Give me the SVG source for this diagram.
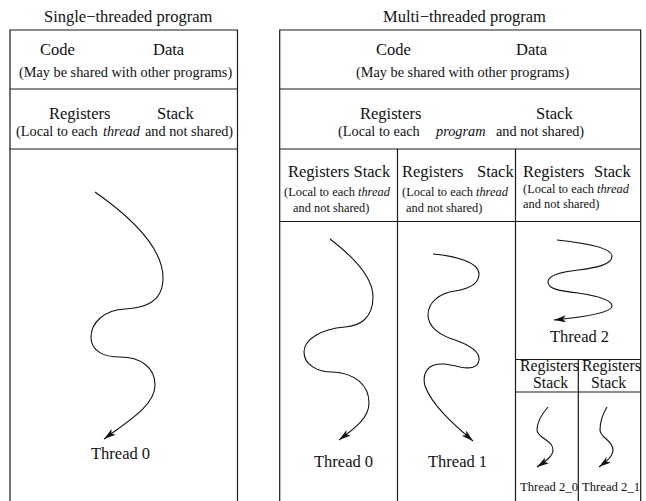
<svg xmlns="http://www.w3.org/2000/svg" width="646" height="501" viewBox="0 0 646 501" font-family="'Liberation Serif', 'DejaVu Serif', 'Noto Serif', serif">
  <style>
    .frame { fill: none; stroke: #1a1a1a; stroke-width: 1.2; }
    .flow { fill: none; stroke: #111; stroke-width: 1.1; marker-end: url(#head); }
    text { font-family: 'Liberation Serif', 'DejaVu Serif', 'Noto Serif', serif; fill: #111; }
    .big { font-size: 16.5px; }
    .sub { font-size: 14.3px; }
    .small { font-size: 12.4px; }
    .cell { font-size: 15.8px; }
    .tiny { font-size: 12.7px; }
    .it { font-style: italic; }
  </style>
  <defs>
    <marker id="head" markerUnits="userSpaceOnUse" markerWidth="14" markerHeight="8" refX="12" refY="3.5" orient="auto">
      <path d="M0,0 L12,3.5 L0,7 L3,3.5 Z" fill="#111"/>
    </marker>
  </defs>

  <!-- Single-threaded program -->
  <g id="single">
    <text class="big" x="44" y="21.5">Single−threaded program</text>
    <path class="frame" d="M10,501 V30 H237.5 V501"/>
  </g>
  <g id="single-code">
    <text class="big" x="40" y="55">Code</text>
    <text class="big" x="153" y="55">Data</text>
    <text class="sub" x="19" y="77">(May be shared with other programs)</text>
    <path class="frame" d="M10,89 H237.5"/>
  </g>
  <g id="single-regs">
    <text class="big" x="49" y="119">Registers</text>
    <text class="big" x="157" y="119">Stack</text>
    <text class="sub" y="136"><tspan x="16">(Local to each</tspan><tspan class="it" x="103">thread</tspan><tspan x="145">and not shared)</tspan></text>
    <path class="frame" d="M10,149 H237.5"/>
  </g>
  <g id="single-thread0">
    <text class="big" x="91" y="458.5">Thread 0</text>
  </g>

  <!-- Multi-threaded program -->
  <g id="multi">
    <text class="big" x="383" y="21.5">Multi−threaded program</text>
    <path class="frame" d="M279.7,501 V30 H640.7 V501"/>
  </g>
  <g id="multi-code">
    <text class="big" x="376" y="55">Code</text>
    <text class="big" x="516" y="55">Data</text>
    <text class="sub" x="356" y="77">(May be shared with other programs)</text>
    <path class="frame" d="M279.7,89 H640.7"/>
  </g>
  <g id="multi-regs">
    <text class="big" x="360" y="119">Registers</text>
    <text class="big" x="536" y="119">Stack</text>
    <text class="sub" y="136"><tspan x="338">(Local to each</tspan><tspan class="it" x="436">program</tspan><tspan x="496">and not shared)</tspan></text>
    <path class="frame" d="M279.7,149 H640.7"/>
  </g>

  <!-- per-thread register/stack cells -->
  <g id="thread0-regs">
    <text class="big" x="288" y="176.5">Registers Stack</text>
    <text class="small" x="284" y="196">(Local to each <tspan class="it">thread</tspan></text>
    <text class="small" x="293" y="212">and not shared)</text>
  </g>
  <g id="thread1-regs">
    <text class="big" x="402" y="176.5">Registers</text>
    <text class="big" x="477" y="176.5">Stack</text>
    <text class="small" x="402" y="196">(Local to each <tspan class="it">thread</tspan></text>
    <text class="small" x="406" y="212">and not shared)</text>
  </g>
  <g id="thread2-regs">
    <text class="big" x="523" y="176.5">Registers</text>
    <text class="big" x="594" y="176.5">Stack</text>
    <text class="small" x="523" y="192.5">(Local to each <tspan class="it">thread</tspan></text>
    <text class="small" x="523" y="208">and not shared)</text>
  </g>
  <g id="grid">
    <path class="frame" d="M279.7,221.5 H640.7 M397.5,149 V501 M515.5,149 V501"/>
  </g>

  <g id="thread0">
    <text class="big" x="314" y="467">Thread 0</text>
  </g>
  <g id="thread1">
    <text class="big" x="428" y="467">Thread 1</text>
  </g>
  <g id="thread2">
    <text class="big" x="550" y="341.5">Thread 2</text>
    <path class="frame" d="M515.5,359.5 H640.7 M515.5,392 H640.7 M578.3,359.5 V501"/>
  </g>
  <g id="thread2_0">
    <text class="cell" x="520" y="371">Registers</text>
    <text class="cell" x="533" y="388">Stack</text>
    <text class="tiny" x="520" y="490.5">Thread 2_0</text>
  </g>
  <g id="thread2_1">
    <text class="cell" x="582" y="371">Registers</text>
    <text class="cell" x="591" y="388">Stack</text>
    <text class="tiny" x="582" y="490.5">Thread 2_1</text>
  </g>

  <!-- execution paths -->
  <g id="connectors">
    <path class="flow" d="M95,192 C135,220 163,250 163,278 C163,305 140,308 125,309 C105,310 91,322 91,337 C91,352 105,357 120,357 C140,357 155,367 155,385 C155,405 130,420 104,439"/>
    <path class="flow" d="M330,239 C355,258 373,278 373,297 C373,318 360,326 345,327 C320,329 304,340 304,352 C304,365 318,372 332,372 C355,373 369,385 369,403 C369,418 355,428 339,440"/>
    <path class="flow" d="M433,254 C455,256 479,262 479,274 C479,285 468,289 455,291 C440,293 428,302 428,315 C428,328 442,336 455,340 C472,346 480,352 479,360 C478,368 470,369 460,367 C448,364 437,362 430,367 C425,371 423,378 425,386 C432,405 452,423 473,441"/>
    <path class="flow" d="M557,240 C585,243 612,248 612,256 C612,265 595,268 578,270 C560,272 548,276 548,282 C548,289 560,291 578,293 C598,296 612,300 612,306 C612,313 585,317 554,320"/>
    <path class="flow" d="M548,407 C541,415 537,423 537,430 C537,438 553,440 553,450 C553,456 546,461 537,467"/>
    <path class="flow" d="M607,407 C602,415 600,423 600,430 C600,438 613,440 613,450 C613,456 607,461 599,467"/>
  </g>
</svg>
